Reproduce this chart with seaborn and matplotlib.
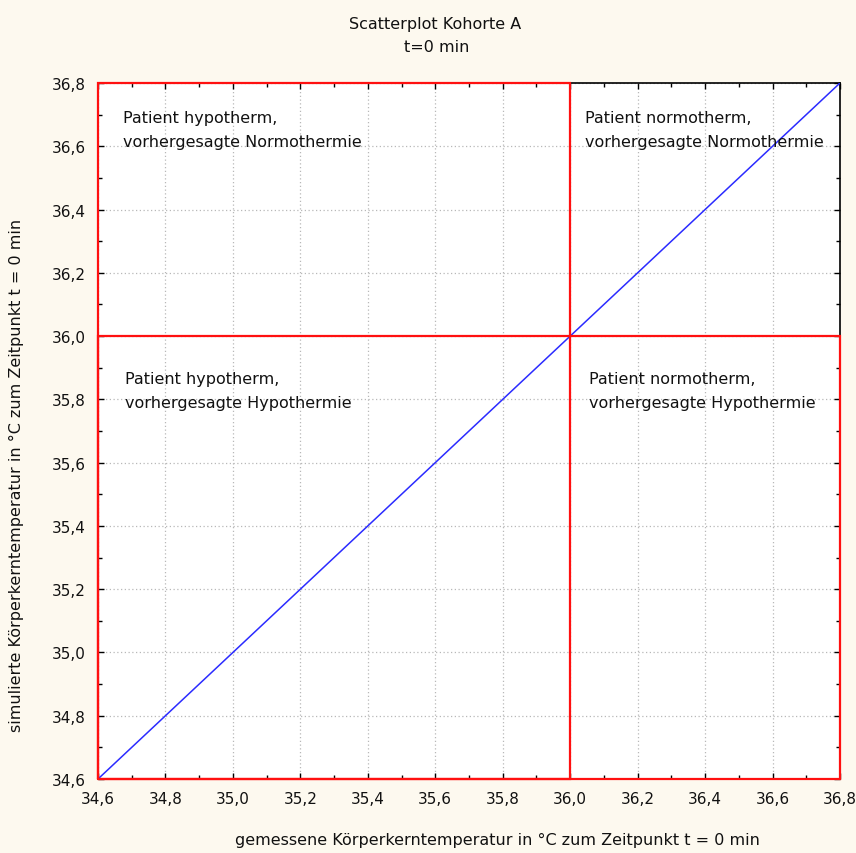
import matplotlib
matplotlib.use("Agg")
import matplotlib.pyplot as plt
import seaborn as sns
import numpy as np
import pandas as pd
from matplotlib.ticker import MultipleLocator, FuncFormatter

# Measured vs. simulated core temperature (°C) at t = 0 min
measured = [34.6, 34.8, 35.0, 35.2, 35.4, 35.6, 35.8, 36.0, 36.2, 36.4, 36.6, 36.8]
simulated = [34.6, 34.8, 35.0, 35.2, 35.4, 35.6, 35.8, 36.0, 36.2, 36.4, 36.6, 36.8]

x_limits = (34.6, 36.8)
y_limits = (34.6, 36.8)
threshold = 36.0

quadrant_labels = [
    "Patient hypotherm,\nvorhergesagte Normothermie",
    "Patient normotherm,\nvorhergesagte Normothermie",
    "Patient hypotherm,\nvorhergesagte Hypothermie",
    "Patient normotherm,\nvorhergesagte Hypothermie",
]

sns.set_theme(style="white")
plt.rcParams["font.family"] = ["DejaVu Sans"]

bg = "#fdf9ef"
fs = 11.5
fig = plt.figure(figsize=(8.56, 8.54), dpi=100, facecolor=bg)
ax = fig.add_axes([98 / 856, 1 - 780 / 854, 742 / 856, 696 / 854])
ax.set_facecolor("white")

df = pd.DataFrame({"gemessen": measured, "simuliert": simulated})
sns.lineplot(data=df, x="gemessen", y="simuliert", ax=ax, color="#2b2bff",
             linewidth=1.1, zorder=4)

ax.set_xlim(*x_limits)
ax.set_ylim(*y_limits)

fmt = FuncFormatter(lambda v, _: f"{v:.1f}".replace(".", ","))
for axis in (ax.xaxis, ax.yaxis):
    axis.set_major_locator(MultipleLocator(0.2))
    axis.set_minor_locator(MultipleLocator(0.1))
    axis.set_major_formatter(fmt)

ax.tick_params(which="both", direction="in", top=True, right=True,
               bottom=True, left=True, color="black", width=1)
ax.tick_params(which="major", length=4, labelsize=11, pad=9, labelcolor="#111111")
ax.tick_params(which="minor", length=3)

ax.grid(True, which="major", linestyle=(0, (1, 2)), color="#b8b8b8", linewidth=0.9)
ax.set_axisbelow(True)

for sp in ax.spines.values():
    sp.set_color("black")
    sp.set_linewidth(1.2)

# Threshold frames: hypothermic patients and predicted hypothermia
red = "#ff1010"
ax.plot([x_limits[0], threshold, threshold, x_limits[0], x_limits[0]],
        [y_limits[0], y_limits[0], y_limits[1], y_limits[1], y_limits[0]],
        color=red, linewidth=1.6, zorder=5, clip_on=False, solid_joinstyle="miter")
ax.plot([x_limits[0], x_limits[1], x_limits[1], x_limits[0], x_limits[0]],
        [y_limits[0], y_limits[0], threshold, threshold, y_limits[0]],
        color=red, linewidth=1.6, zorder=5, clip_on=False, solid_joinstyle="miter")

txt_kw = dict(fontsize=fs, color="#111111", va="top", ha="left",
              linespacing=1.75, zorder=6)
ax.text(34.675, 36.715, quadrant_labels[0], **txt_kw)
ax.text(36.045, 36.715, quadrant_labels[1], **txt_kw)
ax.text(34.68, 35.89, quadrant_labels[2], **txt_kw)
ax.text(36.055, 35.89, quadrant_labels[3], **txt_kw)

ax.set_xlabel("")
ax.set_ylabel("")
fig.text(497 / 856, 1 - 840 / 854, "gemessene Körperkerntemperatur in °C zum Zeitpunkt t = 0 min",
         ha="center", va="center", fontsize=fs, color="#111111")
fig.text(16 / 856, 1 - 475 / 854, "simulierte Körperkerntemperatur in °C zum Zeitpunkt t = 0 min",
         ha="center", va="center", rotation=90, fontsize=fs, color="#111111")
fig.text(435 / 856, 1 - 25 / 854, "Scatterplot Kohorte A", ha="center", va="center",
         fontsize=fs, color="#111111")
fig.text(437 / 856, 1 - 47 / 854, "t=0 min", ha="center", va="center",
         fontsize=fs, color="#111111")

fig.savefig("out.png", dpi=100, facecolor=bg)
